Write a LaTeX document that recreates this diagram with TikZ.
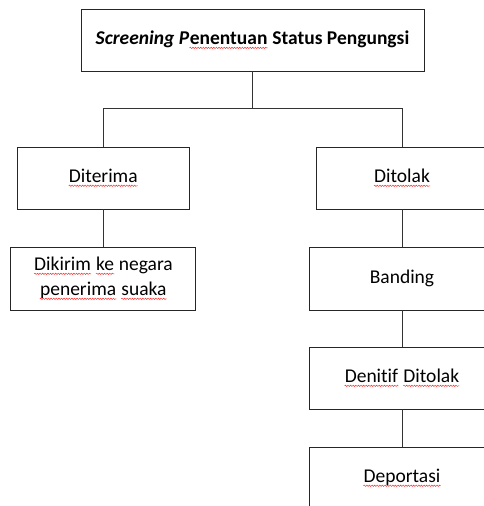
\documentclass[tikz,border=0pt]{standalone}
\usepackage{fontspec}
\setmainfont[Ligatures=NoCommon]{Carlito}
\usetikzlibrary{decorations.pathmorphing}
\newcommand\sqw[1]{\tikz[baseline=(w.base),x=1cm,y=1cm]{\node[inner sep=0pt,draw=none,minimum size=0pt] (w) {#1};
  \draw[red!85, line width=0.45pt, decorate, decoration={snake,amplitude=0.7pt,segment length=2.6pt}]
    ([yshift=-3pt]w.base west) -- ([yshift=-3pt]w.base east);}}
\tikzset{
  box/.style={draw=black!85, line width=0.9pt, rectangle, inner sep=0pt,
    minimum height=62pt, align=center, font=\fontsize{19.5}{25}\selectfont},
  link/.style={draw=black!80, line width=0.9pt}
}
\begin{document}
\begin{tikzpicture}[x=1pt,y=-1pt]
\useasboundingbox (0,0) rectangle (483,506);
\node[box, minimum width=343pt] (top) at (252.5,40)
  {\textbf{\textit{Screening P}\sqw{\textbf{enentuan}} Status Pengungsi}};
\node[box, minimum width=172pt] (dit) at (103.3,178) {\sqw{Diterima}};
\node[box, minimum width=185pt, minimum height=63pt] (dik) at (103.3,278.5)
  {\sqw{Dikirim} \sqw{ke} negara\\ \sqw{penerima} \sqw{suaka}};
\node[box, minimum width=172pt] (tol) at (402,178) {\sqw{Ditolak}};
\node[box, minimum width=186pt, minimum height=63pt] (ban) at (402,278.5) {Banding};
\node[box, minimum width=186pt] (den) at (402,378) {\sqw{Denitif} \sqw{Ditolak}};
\node[box, minimum width=186pt] (dep) at (402,478) {\sqw{Deportasi}};
\coordinate (j) at (252.5,108);
\draw[link] (top.south) -- (j);
\draw[link] (dit.north) -- (dit.north |- j) -- (tol.north |- j) -- (tol.north);
\draw[link] (dit.south) -- (dik.north);
\draw[link] (tol.south) -- (ban.north);
\draw[link] (ban.south) -- (den.north);
\draw[link] (den.south) -- (dep.north);
\end{tikzpicture}
\end{document}
